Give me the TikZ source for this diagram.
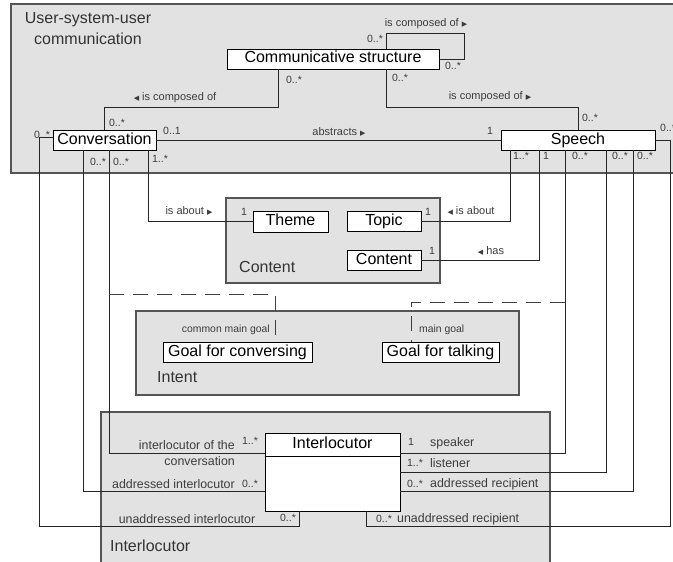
\documentclass[tikz,border=0pt]{standalone}
\usepackage{fontspec}
\setmainfont{Liberation Sans}
\newfontfamily\symfont{DejaVu Sans}
\usetikzlibrary{calc}
\definecolor{pkgfill}{RGB}{226,226,226}
\definecolor{pkgline}{RGB}{85,85,85}
\definecolor{lbl}{RGB}{60,60,60}
\newcommand{\rtri}{{\symfont\fontsize{7}{7}\selectfont ▶}}
\newcommand{\ltri}{{\symfont\fontsize{7}{7}\selectfont ◀}}
\begin{document}
\begin{tikzpicture}[x=1pt,y=-1pt,
  box/.style={draw=black, fill=white, line width=0.9pt, inner sep=0pt, text height=11.5pt, text depth=3.5pt, font=\fontsize{16}{18}\selectfont},
  pkg/.style={draw=pkgline, fill=pkgfill, line width=1.2pt},
  conn/.style={draw=black!85, line width=0.9pt},
  dashconn/.style={draw=black!75, line width=0.9pt, dash pattern=on 15pt off 9pt},
  mult/.style={text=lbl, inner sep=0pt, font=\fontsize{10.5}{12}\selectfont},
  assoc/.style={text=lbl, inner sep=0pt, font=\fontsize{11}{13}\selectfont},
  small/.style={text=lbl, inner sep=0pt, font=\fontsize{10.4}{12}\selectfont},
  role/.style={text=lbl, inner sep=0pt, font=\fontsize{12.4}{15.5}\selectfont},
  pkglabel/.style={text=black!80, inner sep=0pt, font=\fontsize{16}{21}\selectfont},
]
\useasboundingbox (0,0) rectangle (673,562);
\clip (0,0) rectangle (673,562);
\fill[white] (0,0) rectangle (673,562);

% packages
\draw[pkg] (11,4) rectangle (700,173);
\draw[pkg] (226,198) rectangle (440,283);
\draw[pkg] (136,311) rectangle (519,395);
\draw[pkg] (101,412) rectangle (550,600);

\node[pkglabel, align=center] (ttl) at (88,29) {User-system-user\\communication};
\node[pkglabel, anchor=west] (lcontent) at (239,267) {Content};
\node[pkglabel, anchor=west] (lintent) at (157,377) {Intent};
\node[pkglabel, anchor=west] (linterl) at (110,546) {Interlocutor};

% classes
\node[box, minimum width=212pt, minimum height=20pt] (cs) at (333,59) {Communicative structure};
\node[box, minimum width=103pt, minimum height=20pt] (conv) at (104.5,140) {Conversation};
\node[box, minimum width=154pt, minimum height=20pt] (sp) at (578,140) {Speech};
\node[box, minimum width=75pt, minimum height=21pt] (theme) at (290.5,221.5) {Theme};
\node[box, minimum width=74pt, minimum height=20pt] (topic) at (384,221) {Topic};
\node[box, minimum width=74pt, minimum height=20pt] (ctt) at (384,260) {Content};
\node[box, minimum width=149pt, minimum height=20pt] (gconv) at (237.5,352) {Goal for conversing};
\node[box, minimum width=117pt, minimum height=20pt] (gtalk) at (440.5,352) {Goal for talking};
\node[box, minimum width=135pt, minimum height=78pt] (intl) at (332.5,472) {};
\node[inner sep=0pt, text height=11.5pt, text depth=3.5pt, font=\fontsize{16}{18}\selectfont] (intlname) at (332.5,444.5) {Interlocutor};

% helper coordinates
\foreach \xx in {104,109,83,148,275,278,299,366,386,411,510,539,565,606,633}{\coordinate (X\xx) at (\xx,0);}
\foreach \yy in {453,456,472,491}{\coordinate (Y\yy) at (0,\yy);}
\draw[line width=0.9pt] (intl.west |- Y456) -- (intl.east |- Y456);

% connectors
\draw[conn] (cs.north -| X386) -- (386,33) -- (464,33) -- (464,59) -- (cs.east);
\draw[conn] (cs.south -| X278) -- (278,107) -- (104,107) -- (conv.north -| X104);
\draw[conn] (cs.south -| X386) -- (386,107) -- (578,107) -- (sp.north);
\draw[conn] (conv.east) -- (sp.west);
\draw[conn] ([yshift=3pt]conv.west) -- (39,137) -- (39,526) -- (299,526) -- (intl.south -| X299);
\draw[conn] (conv.south -| X83) -- (83,491) -- (intl.west |- Y491);
\draw[conn] (conv.south -| X109) -- (109,453) -- (intl.west |- Y453);
\draw[conn] (conv.south -| X148) |- (theme.west);
\draw[conn] (sp.south -| X510) |- (topic.east);
\draw[conn] (sp.south -| X539) |- (ctt.east);
\draw[conn] (sp.south -| X565) -- (565,453) -- (intl.east |- Y453);
\draw[conn] (sp.south -| X606) -- (606,472) -- (intl.east |- Y472);
\draw[conn] (sp.south -| X633) -- (633,491) -- (intl.east |- Y491);
\draw[conn] (sp.east) -- (670,140) -- (670,526) -- (366,526) -- (intl.south -| X366);
\coordinate (d1) at (109,294);
\coordinate (d2) at (565,302);
\draw[dashconn] (d1) -- (275,294) -- (gconv.north -| X275);
\draw[dashconn] (d2) -- (411,302) -- (gtalk.north -| X411);

% top labels
\node[mult] (m1) at (375,39) {0..*};
\node[mult] (m2) at (453,66) {0..*};
\node[assoc] (a1) at (426,24) {is composed of \rtri};
\node[mult] (m3) at (294,80) {0..*};
\node[assoc] (a2) at (175,98) {\ltri{} is composed of};
\node[mult] (m4) at (117,123) {0..*};
\node[mult] (m5) at (400,78) {0..*};
\node[assoc] (a3) at (490,97) {is composed of \rtri};
\node[mult] (m6) at (590,118) {0..*};
\node[mult] (m7) at (172,131) {0..1};
\node[assoc] (a4) at (339,132) {abstracts \rtri};
\node[mult] (m8) at (490,131) {1};
\node[mult, anchor=west] (m9) at (660,128) {0..*};
\node[mult] (m10) at (42,135) {0..*};
% conversation bottom
\node[mult] (m11) at (98,162) {0..*};
\node[mult] (m12) at (121,162) {0..*};
\node[mult] (m13) at (160,159) {1..*};
% speech bottom
\node[mult] (m14) at (521,156) {1..*};
\node[mult] (m15) at (546,156) {1};
\node[mult] (m16) at (580,156) {0..*};
\node[mult] (m17) at (620,156) {0..*};
\node[mult] (m18) at (645,156) {0..*};
% content labels
\node[assoc] (a5) at (189,211) {is about \rtri};
\node[mult] (m19) at (244,212) {1};
\node[mult] (m20) at (428,212) {1};
\node[assoc] (a6) at (471,211) {\ltri{} is about};
\node[mult] (m21) at (432,251) {1};
\node[assoc] (a7) at (491,251) {\ltri{} has};
% intent labels
\node[small, anchor=east] (a8) at (270,330) {common main goal};
\node[small, anchor=west] (a9) at (419,330) {main goal};
% interlocutor roles
\node[role, anchor=east, align=right] (r1) at (235,453) {interlocutor of the\\conversation};
\node[mult] (m22) at (250,441) {1..*};
\node[role, anchor=east] (r2) at (235,484) {addressed interlocutor};
\node[mult] (m23) at (250,484) {0..*};
\node[role] (r3) at (187,519) {unaddressed interlocutor};
\node[mult] (m24) at (288,518) {0..*};
\node[mult] (m25) at (411,442) {1};
\node[role, anchor=west] (r4) at (430,443) {speaker};
\node[mult] (m26) at (415,463) {1..*};
\node[role, anchor=west] (r5) at (430,463) {listener};
\node[mult] (m27) at (415,484) {0..*};
\node[role, anchor=west] (r6) at (430,484) {addressed recipient};
\node[mult] (m28) at (384,519) {0..*};
\node[role, anchor=west] (r7) at (397,519) {unaddressed recipient};
\end{tikzpicture}
\end{document}
